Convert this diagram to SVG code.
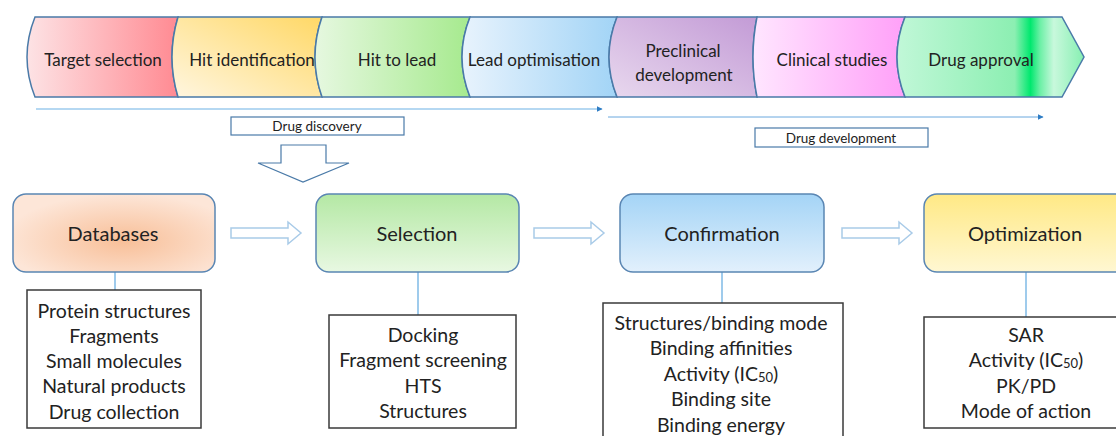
<svg xmlns="http://www.w3.org/2000/svg" width="1116" height="436" viewBox="0 0 1116 436">
<style>
text{font-family:Lato,"Liberation Sans",sans-serif;fill:#222;text-anchor:middle;dominant-baseline:central}
.ban{font-size:17px}
.lbl{font-size:20px}
.lst{font-size:19.5px}
.sm{font-size:13.5px}
.seg{stroke:#4a7aa8;stroke-width:1.5}
.node{stroke:#5a86b3;stroke-width:1.5}
.list{fill:#fff;stroke:#3a3a3a;stroke-width:1.5}
.tag{fill:#fff;stroke:#4a7aa8;stroke-width:1.2}
.blk{fill:#fff;stroke:#a9cbe8;stroke-width:1.5}
.con{stroke:#5fa8e0;stroke-width:1.2;fill:none}
</style>
<defs>
<linearGradient id="g1" x1="0" y1="0" x2="1" y2="0"><stop offset="0" stop-color="#fde3e5"/><stop offset="1" stop-color="#ff8a92"/></linearGradient>
<linearGradient id="g2" x1="0" y1="1" x2="1" y2="0"><stop offset="0" stop-color="#fff6e0"/><stop offset="1" stop-color="#ffd866"/></linearGradient>
<linearGradient id="g3" x1="0" y1="0" x2="1" y2="0"><stop offset="0" stop-color="#e6f8e0"/><stop offset="1" stop-color="#a6ea8e"/></linearGradient>
<linearGradient id="g4" x1="0" y1="0" x2="1" y2="0"><stop offset="0" stop-color="#e8f3fd"/><stop offset="1" stop-color="#a2d4f6"/></linearGradient>
<linearGradient id="g5" x1="0" y1="1" x2="1" y2="0"><stop offset="0" stop-color="#e8d8ee"/><stop offset="1" stop-color="#c39bd6"/></linearGradient>
<linearGradient id="g6" x1="0" y1="0" x2="1" y2="0"><stop offset="0" stop-color="#ffe6ff"/><stop offset="1" stop-color="#ffa0f8"/></linearGradient>
<linearGradient id="g7" x1="890" y1="0" x2="1085" y2="0" gradientUnits="userSpaceOnUse"><stop offset="0" stop-color="#c4f8da"/><stop offset="0.64" stop-color="#8cefb2"/><stop offset="0.72" stop-color="#00e86e"/><stop offset="0.77" stop-color="#6cf0a6"/><stop offset="0.84" stop-color="#c8f8dc"/><stop offset="1" stop-color="#84efb0"/></linearGradient>
<radialGradient id="gd" cx="0.55" cy="0.6" r="0.6"><stop offset="0" stop-color="#f8bf98"/><stop offset="1" stop-color="#fde6d8"/></radialGradient>
<linearGradient id="gs" x1="0" y1="0" x2="0" y2="1"><stop offset="0" stop-color="#b4e8a4"/><stop offset="1" stop-color="#e8f8e2"/></linearGradient>
<linearGradient id="gc" x1="0" y1="0" x2="0" y2="1"><stop offset="0" stop-color="#a4d4f6"/><stop offset="1" stop-color="#e2f0fc"/></linearGradient>
<linearGradient id="go" x1="0" y1="0" x2="0" y2="1"><stop offset="0" stop-color="#ffe985"/><stop offset="1" stop-color="#fff7d2"/></linearGradient>
<marker id="ah" viewBox="0 0 10 10" refX="9" refY="5" markerWidth="6" markerHeight="6" orient="auto" markerUnits="userSpaceOnUse"><path d="M0 0 L10 5 L0 10 z" fill="#2e7cc4"/></marker>
</defs>

<g id="banner">
<g id="stage-target"><path class="seg" fill="url(#g1)" d="M35 17 L178 17 Q166 57 178 97 L35 97 Q19 57 35 17 z"/><text class="ban" x="103" y="59">Target selection</text></g>
<g id="stage-hit"><path class="seg" fill="url(#g2)" d="M178 17 L322 17 Q308 57 322 97 L178 97 Q166 57 178 17 z"/><text class="ban" x="252" y="59">Hit identification</text></g>
<g id="stage-h2l"><path class="seg" fill="url(#g3)" d="M322 17 L470 17 Q454 57 470 97 L322 97 Q308 57 322 17 z"/><text class="ban" x="397" y="59">Hit to lead</text></g>
<g id="stage-lead"><path class="seg" fill="url(#g4)" d="M470 17 L617 17 Q601 57 617 97 L470 97 Q454 57 470 17 z"/><text class="ban" x="534" y="59">Lead optimisation</text></g>
<g id="stage-preclin"><path class="seg" fill="url(#g5)" d="M617 17 L757 17 Q749 57 757 97 L617 97 Q601 57 617 17 z"/><text class="ban" x="683" y="50">Preclinical</text><text class="ban" x="684" y="74">development</text></g>
<g id="stage-clin"><path class="seg" fill="url(#g6)" d="M757 17 L905 17 Q889 57 905 97 L757 97 Q749 57 757 17 z"/><text class="ban" x="832" y="59">Clinical studies</text></g>
<g id="stage-approval"><path class="seg" fill="url(#g7)" d="M905 17 L1062 17 L1084 57 L1062 97 L905 97 Q889 57 905 17 z"/><text class="ban" x="981" y="59">Drug approval</text></g>
</g>

<g id="connectors">
<line x1="36" y1="109" x2="602" y2="109" stroke="#9ccbee" stroke-width="1.5" marker-end="url(#ah)"/>
<line x1="608" y1="117" x2="1043" y2="117" stroke="#6aa8de" stroke-width="1" marker-end="url(#ah)"/>
<path class="tag" d="M281 145 L326 145 L326 163 L349 163 L303 182 L258 163 L281 163 z"/>
<path class="blk" d="M231 228 L288 228 L288 222 L301 233 L288 244 L288 238 L231 238 z"/>
<path class="blk" d="M534 228 L591 228 L591 222 L604 233 L591 244 L591 238 L534 238 z"/>
<path class="blk" d="M842 228 L899 228 L899 222 L912 233 L899 244 L899 238 L842 238 z"/>
<line class="con" x1="115" y1="272" x2="115" y2="290"/>
<line class="con" x1="418" y1="272" x2="418" y2="315"/>
<line class="con" x1="722" y1="272" x2="722" y2="303"/>
<line class="con" x1="1026" y1="272" x2="1026" y2="317"/>
</g>

<g id="label-discovery"><rect class="tag" x="231" y="117" width="173" height="18"/><text class="sm" x="317" y="126">Drug discovery</text></g>
<g id="label-development"><rect class="tag" x="755" y="128" width="173" height="19"/><text class="sm" x="841" y="137.5">Drug development</text></g>

<g id="node-databases"><rect class="node" x="13" y="194" width="202" height="78" rx="13" fill="url(#gd)"/><text class="lbl" x="113" y="233">Databases</text></g>
<g id="node-selection"><rect class="node" x="316" y="194" width="203" height="78" rx="13" fill="url(#gs)"/><text class="lbl" x="417" y="233">Selection</text></g>
<g id="node-confirmation"><rect class="node" x="620" y="194" width="204" height="78" rx="13" fill="url(#gc)"/><text class="lbl" x="722" y="233">Confirmation</text></g>
<g id="node-optimization"><rect class="node" x="924" y="194" width="215" height="78" rx="13" fill="url(#go)"/><text class="lbl" x="1025" y="233">Optimization</text></g>

<g id="list-databases"><rect class="list" x="27" y="290" width="174" height="138"/>
<text class="lst" x="114" y="310">Protein structures</text>
<text class="lst" x="114" y="335">Fragments</text>
<text class="lst" x="114" y="360">Small molecules</text>
<text class="lst" x="114" y="385">Natural products</text>
<text class="lst" x="114" y="411">Drug collection</text></g>

<g id="list-selection"><rect class="list" x="329" y="315" width="187" height="113"/>
<text class="lst" x="423" y="334">Docking</text>
<text class="lst" x="423" y="359">Fragment screening</text>
<text class="lst" x="423" y="385">HTS</text>
<text class="lst" x="423" y="410">Structures</text></g>

<g id="list-confirmation"><rect class="list" x="603" y="303" width="240" height="145"/>
<text class="lst" x="721" y="322">Structures/binding mode</text>
<text class="lst" x="721" y="347">Binding affinities</text>
<text class="lst" x="721" y="373">Activity (IC<tspan font-size="13" dy="4">50</tspan><tspan dy="-4">)</tspan></text>
<text class="lst" x="721" y="398">Binding site</text>
<text class="lst" x="721" y="424">Binding energy</text></g>

<g id="list-optimization"><rect class="list" x="924" y="317" width="210" height="111"/>
<text class="lst" x="1026" y="334">SAR</text>
<text class="lst" x="1026" y="359">Activity (IC<tspan font-size="13" dy="4">50</tspan><tspan dy="-4">)</tspan></text>
<text class="lst" x="1026" y="385">PK/PD</text>
<text class="lst" x="1026" y="410">Mode of action</text></g>
</svg>
